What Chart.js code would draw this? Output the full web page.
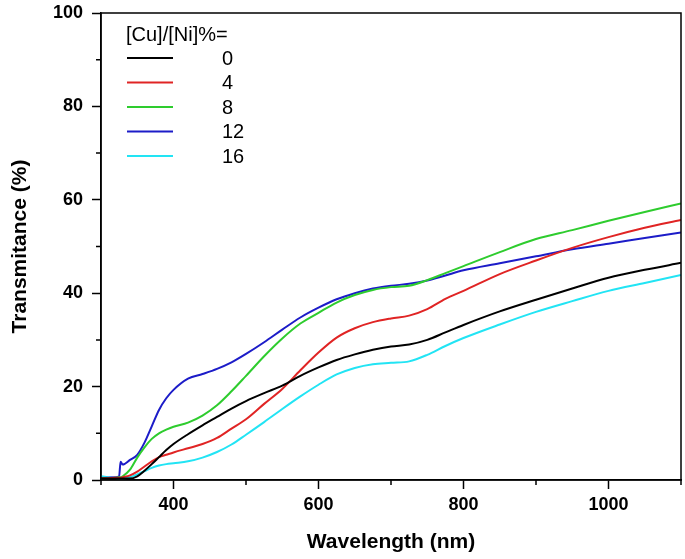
<!DOCTYPE html>
<html>
<head>
<meta charset="utf-8">
<script src="https://cdn.jsdelivr.net/npm/chart.js@4.4.1/dist/chart.umd.min.js"></script>
<style>
  html, body { margin: 0; padding: 0; background: #fff; }
  #wrap { width: 685px; height: 559px; position: relative; }
</style>
</head>
<body>
<div id="wrap"><canvas id="chart"></canvas></div>
<script>
// Wavelength grid (nm)
const wavelengths = [300, 310, 320, 325, 327, 330, 340, 350, 360, 370, 380, 390, 400, 420, 440, 460, 480, 500,
  525, 550, 575, 600, 625, 650, 675, 700, 725, 750, 775, 800, 850, 900, 950, 1000, 1050, 1100];

// Transmittance (%) per [Cu]/[Ni] ratio
const cu0 = [0.3, 0.3, 0.3, 0.3, 0.3, 0.3, 0.3, 0.8, 2.0, 3.4, 4.9, 6.4, 7.7, 9.8, 11.7, 13.5, 15.3, 16.9,
  18.6, 20.2, 22.3, 24.1, 25.7, 26.9, 27.9, 28.6, 29.0, 30.0, 31.6, 33.2, 36.1, 38.6, 41.0, 43.3, 45.0, 46.5];
const cu4 = [0.3, 0.4, 0.5, 0.5, 0.5, 0.6, 1.0, 1.8, 2.9, 4.0, 4.9, 5.4, 5.9, 6.8, 7.7, 9.0, 11.0, 13.0,
  16.3, 19.5, 23.5, 27.3, 30.5, 32.5, 33.8, 34.6, 35.2, 36.6, 38.8, 40.5, 44.1, 47.0, 49.7, 52.0, 54.0, 55.7];
const cu8 = [0.3, 0.4, 0.5, 0.6, 0.6, 0.8, 2.2, 4.8, 7.0, 8.8, 10.0, 10.8, 11.4, 12.3, 13.8, 16.0, 19.0, 22.3,
  26.5, 30.3, 33.5, 35.8, 38.0, 39.6, 40.7, 41.3, 41.6, 42.8, 44.3, 45.8, 48.8, 51.6, 53.5, 55.5, 57.4, 59.2];
const cu12 = [0.4, 0.5, 0.6, 0.8, 3.9, 3.3, 4.3, 5.4, 8.0, 11.5, 15.0, 17.5, 19.3, 21.7, 22.7, 23.8, 25.2, 27.0,
  29.5, 32.2, 34.8, 36.9, 38.7, 40.0, 41.0, 41.6, 42.0, 42.7, 43.8, 44.9, 46.4, 47.9, 49.4, 50.6, 51.8, 53.0];
const cu16 = [0.8, 0.6, 0.4, 0.3, 0.3, 0.3, 0.6, 1.2, 1.9, 2.6, 3.1, 3.4, 3.6, 4.0, 4.8, 6.0, 7.6, 9.7,
  12.4, 15.2, 17.9, 20.4, 22.6, 24.0, 24.8, 25.1, 25.4, 26.8, 28.7, 30.4, 33.3, 36.0, 38.3, 40.5, 42.2, 43.9];

const seriesLabels = ['0', '4', '8', '12', '16'];
const seriesValues = [cu0, cu4, cu8, cu12, cu16];
const seriesColors = ['#000000', '#e02424', '#2ecc2e', '#1c1cc8', '#22e4f4'];

const legendTitle = '[Cu]/[Ni]%=';
const xTicks = [400, 600, 800, 1000];
const xMinor = [300, 500, 700, 900, 1100];
const yMinor = [10, 30, 50, 70, 90];

const FONT = 'Liberation Sans, Arial, sans-serif';

// Frame, minor ticks and legend
const decorPlugin = {
  id: 'decor',
  afterDraw(chart) {
    const ctx = chart.ctx;
    const a = chart.chartArea;
    const xs = chart.scales.x, ys = chart.scales.y;
    ctx.save();
    ctx.strokeStyle = '#000';
    ctx.lineWidth = 1.5;
    ctx.strokeRect(a.left, a.top, a.right - a.left, a.bottom - a.top);

    // minor ticks
    ctx.beginPath();
    xMinor.forEach(v => {
      const px = xs.getPixelForValue(v);
      ctx.moveTo(px, a.bottom);
      ctx.lineTo(px, a.bottom + 5);
    });
    yMinor.forEach(v => {
      const py = ys.getPixelForValue(v);
      ctx.moveTo(a.left, py);
      ctx.lineTo(a.left - 5, py);
    });
    ctx.stroke();

    // legend
    ctx.font = '20px ' + FONT;
    ctx.fillStyle = '#000';
    ctx.textBaseline = 'middle';
    ctx.textAlign = 'left';
    ctx.fillText(legendTitle, 126, 35);
    seriesLabels.forEach((lab, i) => {
      const y = 58 + i * 24.5;
      ctx.strokeStyle = seriesColors[i];
      ctx.lineWidth = 2;
      ctx.beginPath();
      ctx.moveTo(127, y);
      ctx.lineTo(173, y);
      ctx.stroke();
      ctx.fillText(lab, 222, y + 1);
    });
    ctx.restore();
  }
};

const datasets = seriesValues.map((vals, i) => ({
  label: seriesLabels[i],
  data: wavelengths.map((w, j) => ({ x: w, y: vals[j] })),
  borderColor: seriesColors[i],
  backgroundColor: seriesColors[i],
  borderWidth: 2,
  pointRadius: 0,
  cubicInterpolationMode: 'monotone',
  fill: false
}));

new Chart(document.getElementById('chart'), {
  type: 'line',
  data: { datasets: datasets },
  options: {
    responsive: true,
    maintainAspectRatio: false,
    animation: false,
    layout: { padding: { top: 13, right: 4, left: 0, bottom: 0 } },
    plugins: {
      legend: { display: false },
      tooltip: { enabled: false }
    },
    scales: {
      x: {
        type: 'linear',
        min: 300,
        max: 1100,
        afterFit: s => { s.height = 79; s.paddingLeft = 0; s.paddingRight = 0; },
        afterBuildTicks: s => { s.ticks = xTicks.map(v => ({ value: v })); },
        grid: { drawOnChartArea: false, tickLength: 9, tickColor: '#000', tickWidth: 1.5 },
        border: { color: '#000', width: 1.5 },
        ticks: {
          color: '#000',
          font: { family: FONT, size: 18, weight: 'bold' },
          padding: 5,
          callback: v => String(v)
        },
        title: {
          display: true,
          text: 'Wavelength (nm)',
          color: '#000',
          font: { family: FONT, size: 21, weight: 'bold' },
          padding: { top: 4, bottom: 4 }
        }
      },
      y: {
        min: 0,
        max: 100,
        afterFit: s => { s.width = 101; s.paddingTop = 0; s.paddingBottom = 0; },
        ticks: { stepSize: 20, color: '#000', font: { family: FONT, size: 18, weight: 'bold' }, padding: 9 },
        grid: { drawOnChartArea: false, tickLength: 9, tickColor: '#000', tickWidth: 1.5 },
        border: { color: '#000', width: 1.5 },
        title: {
          display: true,
          text: 'Transmitance (%)',
          color: '#000',
          font: { family: FONT, size: 21, weight: 'bold' },
          padding: { top: 8, bottom: 4 }
        }
      }
    }
  },
  plugins: [decorPlugin]
});
</script>
</body>
</html>
